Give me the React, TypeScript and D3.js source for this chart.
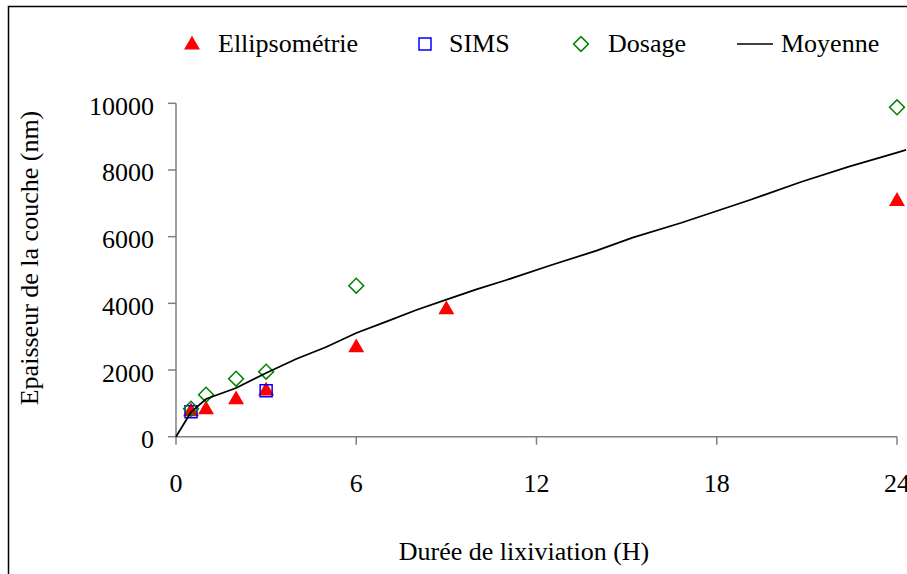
import React from 'react';
import * as d3 from 'd3';

// hours / thickness (nm)
const ellipsoHours = [0.5, 1, 2, 3, 6, 9, 24];
const ellipsoValues = [780, 840, 1140, 1400, 2700, 3840, 7090];

const simsHours = [0.5, 3];
const simsValues = [750, 1380];

const dosageHours = [0.5, 1, 2, 3, 6, 24];
const dosageValues = [840, 1260, 1740, 1950, 4530, 9880];

const meanHours = [0, 0.5, 1, 2, 3, 4, 5, 6, 7, 8, 9, 10, 11, 12.5, 14, 15.2, 16.8, 19.1, 20.8, 22.4, 24, 24.3];
const meanValues = [0, 740, 1130, 1460, 1910, 2330, 2690, 3110, 3450, 3800, 4110, 4420, 4700, 5150, 5580, 5970, 6410, 7100, 7640, 8100, 8520, 8600];

const xTicks = [0, 6, 12, 18, 24];
const yTicks = [0, 2000, 4000, 6000, 8000, 10000];

const FONT = '"Liberation Serif", "Times New Roman", serif';
const AXIS = '#808080';

const zip = (xs: number[], ys: number[]) => xs.map((x, i) => ({ x, y: ys[i] }));

export default function App() {
  const x = d3.scaleLinear().domain([0, 24]).range([176, 897]);
  const y = d3.scaleLinear().domain([0, 10000]).range([436.7, 103.3]);

  const tri = d3.symbol().type(d3.symbolTriangle).size(110)() as string;
  const sq = d3.symbol().type(d3.symbolSquare).size(144)() as string;
  const dia = d3.symbol().type(d3.symbolSquare).size(110)() as string;

  const line = d3.line<{ x: number; y: number }>()
    .x(d => x(d.x))
    .y(d => y(d.y));

  const triangle = (cx: number, cy: number, k: string) => (
    <path key={k} d={tri} transform={`translate(${cx},${cy + 1})`} fill="#ff0000" />
  );
  const square = (cx: number, cy: number, k: string) => (
    <path key={k} d={sq} transform={`translate(${cx},${cy})`} fill="none" stroke="#0000ff" strokeWidth={1.5} />
  );
  const diamond = (cx: number, cy: number, k: string) => (
    <path key={k} d={dia} transform={`translate(${cx},${cy}) rotate(45)`} fill="none" stroke="#008000" strokeWidth={1.5} />
  );

  return (
    <svg
      width={907}
      height={574}
      style={{ position: 'absolute', left: 0, top: 0, background: '#fff' }}
      fontFamily={FONT}
    >
      {/* outer frame */}
      <path d="M8.5,580 V6.5 H910" fill="none" stroke="#000" strokeWidth={1.5} />

      {/* legend */}
      <g fontSize={26} fill="#000">
        {triangle(192, 44, 'lt')}
        <text x={218} y={52}>Ellipsométrie</text>
        {square(425, 44, 'ls')}
        <text x={449} y={52}>SIMS</text>
        {diamond(581, 44, 'ld')}
        <text x={608} y={52}>Dosage</text>
        <line x1={737} x2={773} y1={44} y2={44} stroke="#000" strokeWidth={1.5} />
        <text x={781} y={52}>Moyenne</text>
      </g>

      {/* y axis */}
      <line x1={176} x2={176} y1={y(10000)} y2={y(0)} stroke={AXIS} strokeWidth={1.5} />
      {yTicks.map(t => (
        <g key={'y' + t}>
          <line x1={168} x2={176} y1={y(t)} y2={y(t)} stroke={AXIS} strokeWidth={1.5} />
          <text x={154} y={y(t) + 11.5} textAnchor="end" fontSize={26}>{t}</text>
        </g>
      ))}

      {/* x axis */}
      <line x1={x(0)} x2={x(24)} y1={y(0)} y2={y(0)} stroke={AXIS} strokeWidth={1.5} />
      {xTicks.map(t => (
        <g key={'x' + t}>
          <line x1={x(t)} x2={x(t)} y1={y(0)} y2={y(0) + 8} stroke={AXIS} strokeWidth={1.5} />
          <text x={x(t)} y={492} textAnchor="middle" fontSize={26}>{t}</text>
        </g>
      ))}

      <text x={524} y={560} textAnchor="middle" fontSize={26}>Durée de lixiviation (H)</text>
      <text transform="translate(37.5,258) rotate(-90)" textAnchor="middle" fontSize={26}>
        Epaisseur de la couche (nm)
      </text>

      {/* markers */}
      {zip(ellipsoHours, ellipsoValues).map((d, i) => triangle(x(d.x), y(d.y), 'e' + i))}
      {zip(simsHours, simsValues).map((d, i) => square(x(d.x), y(d.y), 's' + i))}
      {zip(dosageHours, dosageValues).map((d, i) => diamond(x(d.x), y(d.y), 'd' + i))}

      {/* mean curve */}
      <path d={line(zip(meanHours, meanValues)) as string} fill="none" stroke="#000" strokeWidth={1.8} />
    </svg>
  );
}
